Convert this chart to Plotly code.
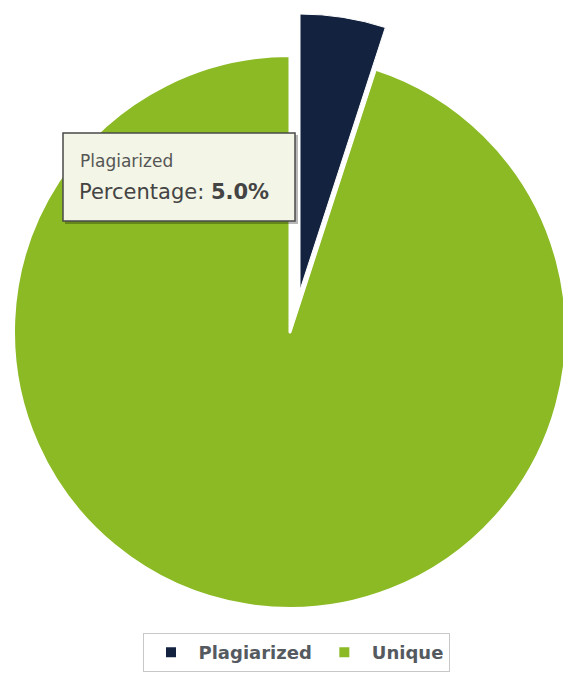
import plotly.graph_objects as go

# ---- data ----
labels = ["Plagiarized", "Unique"]
values = [5.0, 95.0]
colors = ["#13233F", "#8BBA24"]
tooltip_title = "Plagiarized"
tooltip_label = "Percentage:"
tooltip_value = "5.0%"

# ---- geometry (pixels) ----
W, H = 600, 678          # figure canvas (view window is 563 wide; pie slightly cut on the right)
VIEW_W = 563
CX, CY, R = 290, 332, 276  # main pie centre / radius
DX, DY = 10, -42           # offset of the exploded slice


def fx(px):
    return px / W


def fy(py):
    return 1 - py / H


def domain(cx, cy, r):
    return dict(x=[fx(cx - r), fx(cx + r)], y=[fy(cy + r), fy(cy - r)])


TRANSPARENT = "rgba(0,0,0,0)"

fig = go.Figure()

# main pie (provides the legend)
fig.add_trace(go.Pie(
    labels=labels, values=values, sort=False, direction="clockwise", rotation=0,
    marker=dict(colors=colors, line=dict(color="white", width=2)),
    textinfo="none", hoverinfo="skip", domain=domain(CX, CY, R),
    showlegend=True,
))
# white cover over the un-exploded position of the first slice
fig.add_trace(go.Pie(
    labels=["_c0", "_c1"], values=values, sort=False, direction="clockwise", rotation=0,
    marker=dict(colors=["white", TRANSPARENT], line=dict(color="white", width=[3, 0])),
    textinfo="none", hoverinfo="skip", domain=domain(CX, CY, R), showlegend=False,
))
# exploded slice
fig.add_trace(go.Pie(
    labels=["_e0", "_e1"], values=values, sort=False, direction="clockwise", rotation=0,
    marker=dict(colors=[colors[0], TRANSPARENT], line=dict(color="white", width=[1, 0])),
    textinfo="none", hoverinfo="skip", domain=domain(CX + DX, CY + DY, R), showlegend=False,
))

# tooltip box
shapes = [
    dict(type="rect", xref="paper", yref="paper", x0=fx(65), x1=fx(298), y0=fy(224), y1=fy(135),
         fillcolor="rgba(0,0,0,0.28)", line=dict(width=0)),
    dict(type="rect", xref="paper", yref="paper", x0=fx(63), x1=fx(295), y0=fy(221), y1=fy(133),
         fillcolor="#F3F5E6", line=dict(color="#4A4A4A", width=1.5)),
]
annotations = [
    dict(text=tooltip_title, x=fx(78), y=fy(161), xref="paper", yref="paper",
         xanchor="left", yanchor="middle", showarrow=False,
         font=dict(family="DejaVu Sans", size=17, color="#555555")),
    dict(text=f"{tooltip_label} <b>{tooltip_value}</b>", x=fx(77), y=fy(192), xref="paper", yref="paper",
         xanchor="left", yanchor="middle", showarrow=False,
         font=dict(family="DejaVu Sans", size=21, color="#444444")),
]

fig.update_layout(
    width=W, height=H, margin=dict(l=0, r=0, t=0, b=0),
    paper_bgcolor="white", plot_bgcolor="white",
    shapes=shapes, annotations=annotations,
    legend=dict(orientation="h", x=fx(296), xanchor="center", y=fy(633), yanchor="top",
                bordercolor="#C8C8C8", borderwidth=1, bgcolor="white", itemwidth=45,
                font=dict(family="DejaVu Sans", size=18, color="#555A60", weight="bold")),
)

post = ("var d=document.getElementById('{plot_id}');"
        "if(d&&d.parentElement){d.parentElement.style.width='%dpx';"
        "d.parentElement.style.overflow='hidden';}" % VIEW_W)
fig.write_html("out.html", post_script=post)
